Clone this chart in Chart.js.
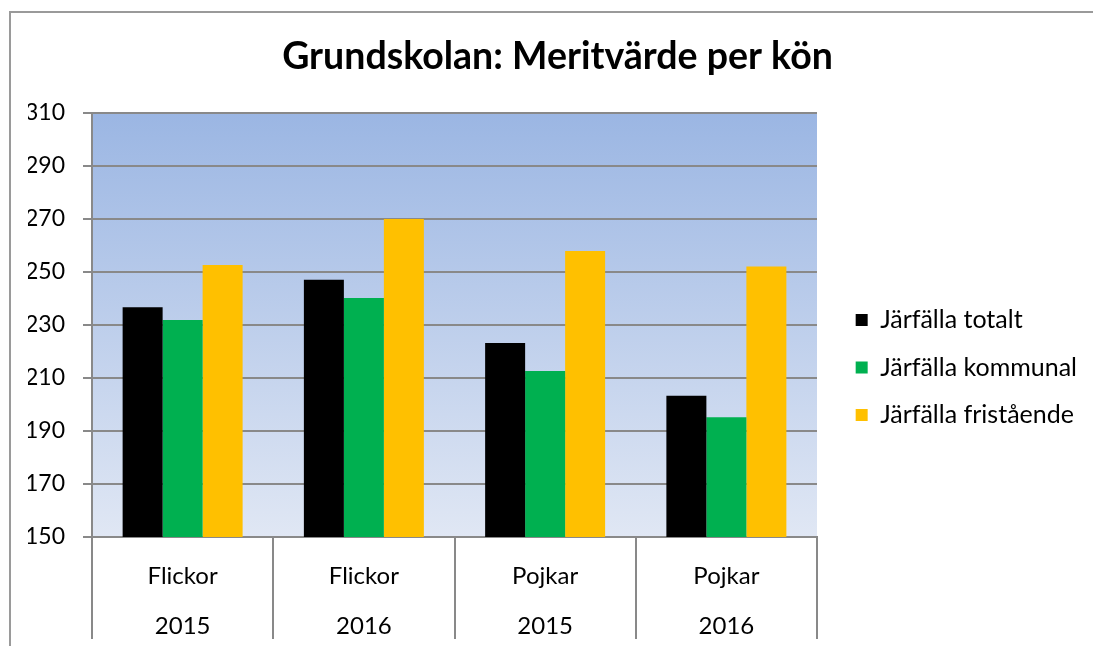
<!DOCTYPE html>
<html>
<head>
<meta charset="utf-8">
<title>Grundskolan: Meritvärde per kön</title>
<script src="https://cdn.jsdelivr.net/npm/chart.js@4.4.1/dist/chart.umd.min.js"></script>
<style>
    html, body { margin: 0; padding: 0; background: #fff; overflow: hidden; }
    .frame {
        position: absolute; left: 9px; top: 11px; width: 1200px; height: 800px;
        border-left: 2px solid #9a9a9a; border-top: 2px solid #9a9a9a;
    }
    #myChart { position: absolute; left: 0; top: 0; }
</style>
</head>
<body>
<div class="frame"></div>
<canvas id="myChart" width="1093" height="646"></canvas>
<script>
var chartTitle = "Grundskolan: Meritvärde per kön";
var groups = ["Flickor", "Flickor", "Pojkar", "Pojkar"];
var years = ["2015", "2016", "2015", "2016"];
var seriesNames = ["Järfälla totalt", "Järfälla kommunal", "Järfälla fristående"];
var totalt = [236.7, 247.1, 223.2, 203.3];
var kommunal = [231.9, 240.2, 212.6, 195.2];
var fristaende = [252.6, 270.0, 257.9, 252.1];
var yTicks = [150, 170, 190, 210, 230, 250, 270, 290, 310];

var W = 1093;
var plotLeft = 92;
var plotRight = 817;
var plotBottom = 537;
var padLeft = 28;
var padRight = 6;
var gridGrey = '#898989';

var plotBackground = {
    id: 'plotBackground',
    beforeDraw: (chart) => {
        const a = chart.chartArea;
        const ctx = chart.ctx;
        const g = ctx.createLinearGradient(0, a.top, 0, a.bottom);
        g.addColorStop(0, '#9bb6e3');
        g.addColorStop(1, '#e0e7f4');
        ctx.save();
        ctx.fillStyle = g;
        ctx.fillRect(a.left, a.top, a.right - a.left, a.bottom - a.top);
        ctx.restore();
    }
};

var makeData = () => {
    const colors = ['#000000', '#00b050', '#ffc000'];
    const values = [totalt, kommunal, fristaende];
    return {
        labels: groups.map((g, i) => [g, years[i]]),
        datasets: seriesNames.map((name, i) => ({
            label: name,
            data: values[i],
            backgroundColor: colors[i],
            borderWidth: 0,
            categoryPercentage: 0.662,
            barPercentage: 1.0
        }))
    };
}

window.onload = () => {
    Chart.defaults.color = '#000';
    Chart.defaults.font.family = 'Lato, "Noto Sans", sans-serif';
    const ctx = document.getElementById('myChart').getContext('2d');
    new Chart(ctx, {
        type: 'bar',
        data: makeData(),
        plugins: [plotBackground],
        options: {
            responsive: false,
            animation: false,
            devicePixelRatio: 1,
            layout: { padding: { left: padLeft, right: padRight, top: 0, bottom: 0 } },
            scales: {
                x: {
                    offset: true,
                    grid: {
                        offset: true,
                        drawOnChartArea: false,
                        tickLength: 102,
                        color: gridGrey,
                        lineWidth: 2
                    },
                    border: { color: gridGrey, width: 2 },
                    ticks: {
                        font: { size: 24, lineHeight: 50 / 24 },
                        padding: -88,
                        maxRotation: 0
                    },
                    afterFit: (s) => { s.height = 646 - plotBottom; }
                },
                y: {
                    min: 150,
                    max: 310,
                    afterBuildTicks: (s) => { s.ticks = yTicks.map(v => ({ value: v })); },
                    grid: { color: gridGrey, lineWidth: 2, tickLength: 9 },
                    border: { color: gridGrey, width: 2 },
                    ticks: { font: { size: 23 }, padding: 18 },
                    afterFit: (s) => { s.width = plotLeft - padLeft; }
                },
                spacer: {
                    type: 'linear',
                    position: 'right',
                    grid: { display: false },
                    border: { display: false },
                    ticks: { display: false },
                    afterFit: (s) => {
                        const lg = s.chart.legend;
                        s.width = Math.max(0, (W - padRight - lg.width) - plotRight);
                    }
                }
            },
            plugins: {
                title: {
                    display: true,
                    text: chartTitle,
                    font: { size: 37.5, weight: 'bold', lineHeight: 1.2 },
                    padding: { top: 34.5, bottom: 33.5 }
                },
                legend: {
                    position: 'right',
                    maxWidth: 400,
                    title: { display: true, text: ' ', font: { size: 10 }, padding: 38.5 },
                    labels: {
                        boxWidth: 12,
                        boxHeight: 12,
                        padding: 22.5,
                        font: { size: 25 }
                    }
                },
                tooltip: { enabled: false }
            }
        }
    });
}
</script>
</body>
</html>
